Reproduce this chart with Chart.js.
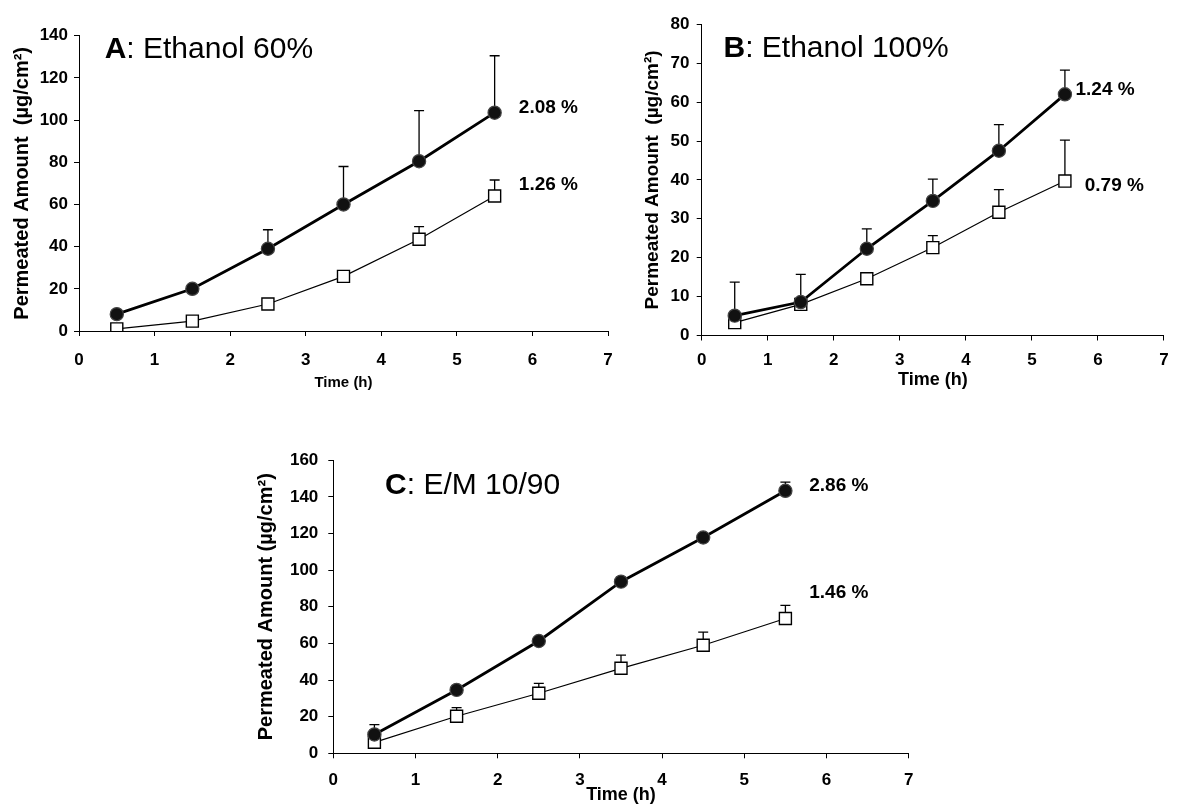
<!DOCTYPE html>
<html>
<head>
<meta charset="utf-8">
<script src="https://cdn.jsdelivr.net/npm/chart.js@4.4.1/dist/chart.umd.min.js"></script>
<style>
  html, body { margin: 0; padding: 0; background: #fff; }
  body { width: 1178px; height: 806px; position: relative; overflow: hidden; }
  .panel { position: absolute; }
</style>
</head>
<body>
<div class="panel" style="left:0;top:0;width:630px;height:400px"><canvas id="chartA"></canvas></div>
<div class="panel" style="left:630px;top:0;width:548px;height:400px"><canvas id="chartB"></canvas></div>
<div class="panel" style="left:240px;top:440px;width:700px;height:366px"><canvas id="chartC"></canvas></div>
<script>
// time points (h)
const timePoints = [0.5, 1.5, 2.5, 3.5, 4.5, 5.5];

// A: Ethanol 60%
const aFilled = [8, 20, 39, 60, 80.5, 103.5];
const aFilledSD = [0, 0, 9, 18, 24, 27];
const aOpen = [1, 4.7, 12.8, 25.9, 43.5, 64];
const aOpenSD = [0, 0, 0, 0, 6, 7.6];

// B: Ethanol 100%
const bFilled = [5.1, 8.6, 22.3, 34.6, 47.5, 62];
const bFilledSD = [8.6, 7.1, 5.1, 5.6, 6.7, 6.2];
const bOpen = [3.3, 8.0, 14.6, 22.6, 31.7, 39.7];
const bOpenSD = [0, 0, 0, 3.1, 5.8, 10.5];

// C: E/M 10/90
const cFilled = [10.3, 34.6, 61.3, 93.7, 117.8, 143.3];
const cFilledSD = [5.4, 0, 0, 2.5, 0, 4.7];
const cOpen = [6, 20.2, 32.8, 46.4, 59, 73.6];
const cOpenSD = [0, 4.7, 5.4, 7.2, 7.2, 7.2];

const xTicks = [0, 1, 2, 3, 4, 5, 6, 7];
const percentA = ['2.08 %', '1.26 %'];
const percentB = ['1.24 %', '0.79 %'];
const percentC = ['2.86 %', '1.46 %'];

Chart.defaults.font.family = '"Liberation Sans", Arial, sans-serif';
Chart.defaults.color = '#000';

// error bars (upper side only), panel title and % labels
const extrasPlugin = {
  id: 'extras',
  beforeDatasetsDraw(chart) {
    const ctx = chart.ctx;
    const xs = chart.scales.x, ys = chart.scales.y;
    ctx.save();
    ctx.strokeStyle = '#000';
    ctx.lineWidth = 1.3;
    chart.data.datasets.forEach(ds => {
      ds.data.forEach((p, i) => {
        const e = ds.errorUp[i];
        if (!e) return;
        const px = xs.getPixelForValue(p.x);
        const py = ys.getPixelForValue(p.y);
        const pt = ys.getPixelForValue(p.y + e);
        ctx.beginPath();
        ctx.moveTo(px, py);
        ctx.lineTo(px, pt);
        ctx.moveTo(px - 5, pt);
        ctx.lineTo(px + 5, pt);
        ctx.stroke();
      });
    });
    ctx.restore();
  },
  afterDraw(chart, args, opts) {
    const ctx = chart.ctx;
    const xs = chart.scales.x, ys = chart.scales.y;
    ctx.save();
    ctx.fillStyle = '#000';
    // title: bold letter + plain text
    const tx = xs.getPixelForValue(opts.titleX);
    const ty = ys.getPixelForValue(opts.titleY);
    ctx.textBaseline = 'alphabetic';
    ctx.textAlign = 'left';
    ctx.font = 'bold 30px "Liberation Sans", Arial, sans-serif';
    ctx.fillText(opts.titleBold, tx, ty);
    const w = ctx.measureText(opts.titleBold).width;
    ctx.font = '30px "Liberation Sans", Arial, sans-serif';
    ctx.fillText(opts.titleRest, tx + w, ty);
    // percentage labels
    ctx.font = 'bold 19px "Liberation Sans", Arial, sans-serif';
    ctx.textBaseline = 'middle';
    opts.notes.forEach((n, i) => {
      ctx.fillText(opts.noteText[i], xs.getPixelForValue(n[0]), ys.getPixelForValue(n[1]));
    });
    ctx.restore();
  }
};

function makeSet(values, sd, filled) {
  return {
    data: timePoints.map((t, i) => ({ x: t, y: values[i] })),
    errorUp: sd,
    showLine: true,
    borderColor: '#000',
    borderWidth: filled ? 2.8 : 1.2,
    pointStyle: filled ? 'circle' : 'rect',
    pointRadius: filled ? 6.6 : 8.5,
    pointBackgroundColor: filled ? '#111' : '#fff',
    pointBorderColor: filled ? '#444' : '#000',
    pointBorderWidth: filled ? 1.2 : 1.4,
    pointHoverRadius: filled ? 6.6 : 8.5
  };
}

function makePanel(id, p) {
  new Chart(document.getElementById(id), {
    type: 'scatter',
    data: {
      datasets: [makeSet(p.filled, p.filledSD, true), makeSet(p.open, p.openSD, false)]
    },
    options: {
      responsive: true,
      maintainAspectRatio: false,
      animation: false,
      layout: { autoPadding: false, padding: { left: 0, top: p.padTop, right: p.padRight, bottom: 0 } },
      plugins: {
        legend: { display: false },
        tooltip: { enabled: false },
        extras: {
          titleBold: p.titleBold, titleRest: p.titleRest, titleX: p.titleX, titleY: p.titleY,
          notes: p.notes, noteText: p.noteText
        }
      },
      scales: {
        x: {
          type: 'linear', min: 0, max: 7,
          afterBuildTicks: s => { s.ticks = xTicks.map(v => ({ value: v })); },
          afterFit: s => { s.height = p.xHeight; },
          grid: { drawOnChartArea: false, drawTicks: true, tickLength: 5, color: '#000', lineWidth: 1 },
          border: { color: '#000', width: 1 },
          ticks: { font: { size: 17, weight: 'bold' }, padding: p.xTickPad, maxRotation: 0, color: '#000' },
          title: { display: true, text: 'Time (h)', font: { size: p.xTitleSize, weight: 'bold' },
                   padding: { top: 0, bottom: p.xTitlePad }, color: '#000' }
        },
        y: {
          min: 0, max: p.yMax,
          ticks: { stepSize: p.yStep, font: { size: 17, weight: 'bold' }, padding: p.yTickPad, color: '#000' },
          afterFit: s => { s.width = p.yWidth; },
          grid: { drawOnChartArea: false, drawTicks: true, tickLength: 5, color: '#000', lineWidth: 1 },
          border: { color: '#000', width: 1 },
          title: { display: true, text: p.yTitle, font: { size: p.yTitleSize, weight: 'bold' },
                   padding: { top: p.yTitlePad, bottom: 0 }, color: '#000' }
        }
      }
    },
    plugins: [extrasPlugin]
  });
}

makePanel('chartA', {
  filled: aFilled, filledSD: aFilledSD, open: aOpen, openSD: aOpenSD,
  yMax: 140, yStep: 20, yWidth: 79, xHeight: 69, padTop: 35.7, padRight: 22,
  xTickPad: 13.8, yTickPad: 6, xTitleSize: 15, xTitlePad: 8,
  yTitle: 'Permeated Amount  (µg/cm²)', yTitleSize: 20, yTitlePad: 10.4,
  titleBold: 'A', titleRest: ': Ethanol 60%', titleX: 0.34, titleY: 129.3,
  notes: [[5.82, 105.6], [5.82, 69.2]], noteText: percentA
});

makePanel('chartB', {
  filled: bFilled, filledSD: bFilledSD, open: bOpen, openSD: bOpenSD,
  yMax: 80, yStep: 10, yWidth: 71.7, xHeight: 64.5, padTop: 24.3, padRight: 7.8,
  xTickPad: 9.3, yTickPad: 7.3, xTitleSize: 18, xTitlePad: 9.2,
  yTitle: 'Permeated Amount  (µg/cm²)', yTitleSize: 19, yTitlePad: 11.4,
  titleBold: 'B', titleRest: ': Ethanol 100%', titleX: 0.33, titleY: 71.5,
  notes: [[5.66, 63.1], [5.8, 38.4]], noteText: percentB
});

makePanel('chartC', {
  filled: cFilled, filledSD: cFilledSD, open: cOpen, openSD: cOpenSD,
  yMax: 160, yStep: 20, yWidth: 93.3, xHeight: 52.7, padTop: 17.7, padRight: 31.3,
  xTickPad: 12, yTickPad: 10, xTitleSize: 18, xTitlePad: 0,
  yTitle: 'Permeated Amount (µg/cm²)', yTitleSize: 20, yTitlePad: 14,
  titleBold: 'C', titleRest: ': E/M 10/90', titleX: 0.63, titleY: 141.6,
  notes: [[5.79, 145.8], [5.79, 87.9]], noteText: percentC
});
</script>
</body>
</html>
